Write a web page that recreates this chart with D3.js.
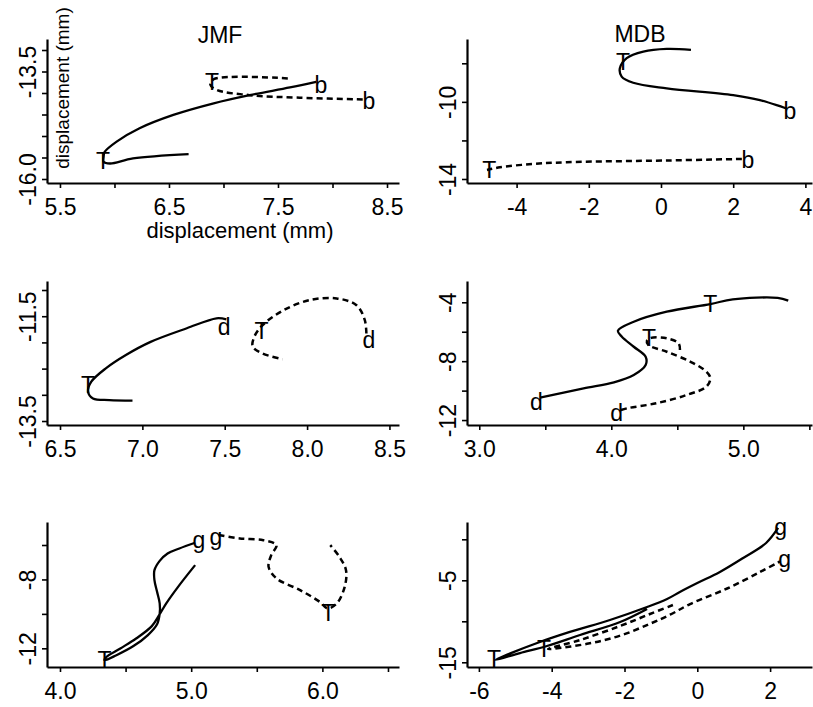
<!DOCTYPE html>
<html>
<head>
<meta charset="utf-8">
<script src="https://cdn.jsdelivr.net/npm/d3@7"></script>
<style>
body { margin: 0; background: #fff; }
svg { display: block; font-family: "Liberation Sans", Arial, Helvetica, sans-serif; }
</style>
</head>
<body>
<svg id="chart" width="813" height="707"></svg>
<script>
// trajectories: [x, y] in mm
const jmfBSolid = [[6.68,-15.42],[6.17,-15.52],[5.96,-15.64],[5.90,-15.60],[5.90,-15.48],[5.91,-15.37],[6.02,-15.13],[6.23,-14.82],[6.54,-14.51],[6.91,-14.24],[7.24,-14.05],[7.61,-13.87],[7.85,-13.74]];
const jmfBDashed = [[7.59,-13.66],[6.91,-13.68],[6.88,-13.81],[6.94,-13.93],[7.24,-14.05],[7.70,-14.11],[8.30,-14.15]];
const jmfBMarks = [[5.894,-15.58,'T'],[7.894,-13.80,'b'],[6.894,-13.73,'T'],[8.335,-14.19,'b']];

const mdbBSolid = [[0.83,-7.30],[0.16,-7.25],[-0.49,-7.39],[-0.95,-7.73],[-1.14,-8.26],[-1.09,-8.69],[-0.77,-9.01],[0.16,-9.30],[2.0,-9.65],[2.74,-9.91],[3.48,-10.35]];
const mdbBDashed = [[2.24,-12.96],[0.16,-13.04],[-2.61,-13.13],[-3.54,-13.22],[-4.46,-13.39],[-4.82,-13.53]];
const mdbBMarks = [[-1.05,-7.91,'T'],[3.57,-10.45,'b'],[-4.76,-13.53,'T'],[2.41,-13.02,'b']];

const jmfDSolid = [[7.51,-11.56],[7.45,-11.54],[7.27,-11.73],[7.05,-11.99],[6.90,-12.24],[6.78,-12.49],[6.69,-12.75],[6.67,-12.94],[6.70,-13.07],[6.80,-13.10],[6.94,-13.11]];
const jmfDDashed = [[8.36,-11.83],[8.35,-11.57],[8.30,-11.29],[8.18,-11.16],[8.02,-11.19],[7.86,-11.38],[7.73,-11.67],[7.68,-11.89],[7.67,-12.08],[7.73,-12.21],[7.85,-12.32]];
const jmfDMarks = [[6.67,-12.81,'T'],[7.496,-11.70,'d'],[7.723,-11.77,'T'],[8.376,-11.945,'d']];

const mdbDSolid = [[5.34,-3.89],[5.26,-3.70],[4.92,-3.80],[4.75,-4.12],[4.42,-4.64],[4.17,-5.32],[4.05,-5.93],[4.08,-6.34],[4.17,-7.02],[4.26,-7.70],[4.26,-8.26],[4.17,-8.94],[4.02,-9.44],[3.79,-9.85],[3.46,-10.48]];
const mdbDDashed = [[4.52,-7.24],[4.51,-6.79],[4.42,-6.45],[4.30,-6.42],[4.27,-6.60],[4.28,-6.90],[4.42,-7.36],[4.60,-8.04],[4.72,-8.71],[4.75,-9.16],[4.72,-9.73],[4.57,-10.30],[4.34,-10.86],[4.12,-11.20],[4.06,-11.35]];
const mdbDMarks = [[4.75,-4.12,'T'],[3.433,-10.74,'d'],[4.286,-6.39,'T'],[4.04,-11.49,'d']];

const jmfGSolid = [[5.03,-7.17],[4.90,-8.43],[4.81,-9.39],[4.76,-10.02],[4.70,-10.71],[4.58,-11.43],[4.46,-12.01],[4.35,-12.53],[4.34,-12.69],[4.43,-12.40],[4.56,-11.87],[4.67,-11.23],[4.74,-10.60],[4.76,-9.98],[4.76,-9.39],[4.74,-8.72],[4.72,-8.04],[4.72,-7.46],[4.76,-6.92],[4.82,-6.49],[4.91,-6.20],[5.03,-5.87]];
const jmfGDashed = [[5.21,-5.42],[5.37,-5.62],[5.55,-5.72],[5.65,-6.01],[5.61,-6.59],[5.59,-7.27],[5.65,-7.94],[5.83,-8.62],[5.98,-9.30],[6.04,-9.68],[6.11,-9.39],[6.17,-8.43],[6.18,-7.46],[6.13,-6.69],[6.06,-6.01]];
const jmfGMarks = [[4.339,-12.65,'T'],[5.059,-5.94,'g'],[5.188,-5.77,'g'],[6.045,-9.91,'T']];

const mdbGSolid = [[2.22,1.38],[1.89,-0.45],[1.26,-2.28],[0.62,-3.99],[0.00,-5.34],[-0.48,-6.43],[-0.83,-7.28],[-1.38,-8.26],[-2.40,-9.84],[-3.50,-11.30],[-4.40,-12.65],[-5.56,-14.72],[-4.87,-13.87],[-4.13,-13.01],[-3.22,-11.67],[-2.12,-10.09],[-1.38,-8.50]];
const mdbGDashed = [[-0.67,-8.01],[-1.30,-9.11],[-2.12,-10.57],[-3.22,-12.28],[-4.10,-13.38],[-3.03,-12.75],[-2.12,-11.75],[-1.30,-10.30],[-0.75,-9.20],[-0.20,-7.90],[0.82,-6.00],[1.72,-4.00],[2.27,-2.70]];
const mdbGMarks = [[-5.585,-14.6,'T'],[-4.21,-13.34,'T'],[2.29,1.01,'g'],[2.40,-2.89,'g']];

// ticks and which of them carry a label
const jmfBXTicks = [5.5,6,6.5,7,7.5,8,8.5], jmfBXLabels = [5.5,6.5,7.5,8.5];
const jmfBYTicks = [-13,-13.5,-14,-14.5,-15,-15.5,-16], jmfBYLabels = [-13.5,-16];
const mdbBXTicks = [-4,-2,0,2,4], mdbBXLabels = [-4,-2,0,2,4];
const mdbBYTicks = [-8,-10,-12,-14], mdbBYLabels = [-10,-14];
const jmfDXTicks = [6.5,7,7.5,8,8.5], jmfDXLabels = [6.5,7,7.5,8,8.5];
const jmfDYTicks = [-11,-11.5,-12,-12.5,-13,-13.5], jmfDYLabels = [-11.5,-13.5];
const mdbDXTicks = [3,3.5,4,4.5,5,5.5], mdbDXLabels = [3,4,5];
const mdbDYTicks = [-4,-6,-8,-10,-12], mdbDYLabels = [-4,-8,-12];
const jmfGXTicks = [4,4.5,5,5.5,6,6.5], jmfGXLabels = [4,5,6];
const jmfGYTicks = [-6,-8,-10,-12], jmfGYLabels = [-8,-12];
const mdbGXTicks = [-6,-4,-2,0,2], mdbGXLabels = [-6,-4,-2,0,2];
const mdbGYTicks = [0,-5,-10,-15], mdbGYLabels = [-5,-15];

const panels = [
    { col: 0, row: 0, solid: jmfBSolid, dashed: jmfBDashed, marks: jmfBMarks, xDomain: [5.381, 8.610], yDomain: [-16.093, -12.744],
      xTicks: jmfBXTicks, xLabels: jmfBXLabels, xDec: 1, yTicks: jmfBYTicks, yLabels: jmfBYLabels, yDec: 1 },
    { col: 1, row: 0, solid: mdbBSolid, dashed: mdbBDashed, marks: mdbBMarks, xDomain: [-5.374, 4.183], yDomain: [-14.208, -6.740],
      xTicks: mdbBXTicks, xLabels: mdbBXLabels, xDec: 0, yTicks: mdbBYTicks, yLabels: mdbBYLabels, yDec: 0 },
    { col: 0, row: 1, solid: jmfDSolid, dashed: jmfDDashed, marks: jmfDMarks, xDomain: [6.421, 8.558], yDomain: [-13.576, -10.828],
      xTicks: jmfDXTicks, xLabels: jmfDXLabels, xDec: 1, yTicks: jmfDYTicks, yLabels: jmfDYLabels, yDec: 1 },
    { col: 1, row: 1, solid: mdbDSolid, dashed: mdbDDashed, marks: mdbDMarks, xDomain: [2.907, 5.520], yDomain: [-12.336, -2.553],
      xTicks: mdbDXTicks, xLabels: mdbDXLabels, xDec: 1, yTicks: mdbDYTicks, yLabels: mdbDYLabels, yDec: 0 },
    { col: 0, row: 2, solid: jmfGSolid, dashed: jmfGDashed, marks: jmfGMarks, xDomain: [3.901, 6.584], yDomain: [-13.085, -4.664],
      xTicks: jmfGXTicks, xLabels: jmfGXLabels, xDec: 1, yTicks: jmfGYTicks, yLabels: jmfGYLabels, yDec: 0 },
    { col: 1, row: 2, solid: mdbGSolid, dashed: mdbGDashed, marks: mdbGMarks, xDomain: [-6.327, 3.151], yDomain: [-15.573, 2.110],
      xTicks: mdbGXTicks, xLabels: mdbGXLabels, xDec: 0, yTicks: mdbGYTicks, yLabels: mdbGYLabels, yDec: 0 }
];

const cols = [{ l: 47, r: 399 }, { l: 467, r: 812 }],
    rows = [{ t: 39, b: 183 }, { t: 281, b: 425 }, { t: 522, b: 667 }];

const svg = d3.select('#chart');

panels.forEach(p => {
    const c = cols[p.col], r = rows[p.row];
    const x = d3.scaleLinear().domain(p.xDomain).range([c.l, c.r]),
        y = d3.scaleLinear().domain(p.yDomain).range([r.b, r.t]);
    const g = svg.append('g');

    const xa = g.append('g')
        .attr('transform', 'translate(0,' + r.b + ')')
        .call(d3.axisBottom(x).tickValues(p.xTicks).tickSize(5).tickSizeOuter(0)
            .tickFormat(d => p.xLabels.includes(d) ? d.toFixed(p.xDec) : ''));
    xa.selectAll('text').attr('y', 32).attr('dy', null);

    const ya = g.append('g')
        .attr('transform', 'translate(' + c.l + ',0)')
        .call(d3.axisLeft(y).tickValues(p.yTicks).tickSize(5).tickSizeOuter(0)
            .tickFormat(d => p.yLabels.includes(d) ? d.toFixed(p.yDec) : ''));
    ya.selectAll('text')
        .attr('x', 0).attr('y', -11).attr('dy', null)
        .attr('text-anchor', 'middle')
        .attr('transform', 'rotate(-90)');

    g.selectAll('.domain').attr('stroke', '#000').attr('stroke-width', 2.2);
    g.selectAll('.tick line').attr('stroke', '#000').attr('stroke-width', 1.6);
    g.selectAll('.tick text').attr('font-size', 23).attr('fill', '#000')
        .attr('font-family', '"Liberation Sans", Arial, Helvetica, sans-serif');

    const line = d3.line().x(d => x(d[0])).y(d => y(d[1])).curve(d3.curveCatmullRom);

    g.append('path').datum(p.solid)
        .attr('d', line).attr('fill', 'none').attr('stroke', '#000').attr('stroke-width', 2.3);
    g.append('path').datum(p.dashed)
        .attr('d', line).attr('fill', 'none').attr('stroke', '#000').attr('stroke-width', 2.5)
        .attr('stroke-dasharray', '6,4');

    g.selectAll('text.mark')
        .data(p.marks)
        .enter()
        .append('text')
        .attr('class', 'mark')
        .attr('x', d => x(d[0]))
        .attr('y', d => y(d[1]))
        .attr('dy', d => d[2] === 'g' ? '0.16em' : '0.36em')
        .attr('text-anchor', 'middle')
        .attr('font-size', 23)
        .text(d => d[2]);
});

// titles and axis labels
svg.append('text').attr('x', 220).attr('y', 43).attr('text-anchor', 'middle').attr('font-size', 23).text('JMF');
svg.append('text').attr('x', 640).attr('y', 42).attr('text-anchor', 'middle').attr('font-size', 23).text('MDB');
svg.append('text').attr('x', 240).attr('y', 238).attr('text-anchor', 'middle').attr('font-size', 22).text('displacement (mm)');
svg.append('text').attr('transform', 'translate(69,88) rotate(-90)').attr('text-anchor', 'middle').attr('font-size', 19).text('displacement (mm)');
</script>
</body>
</html>
